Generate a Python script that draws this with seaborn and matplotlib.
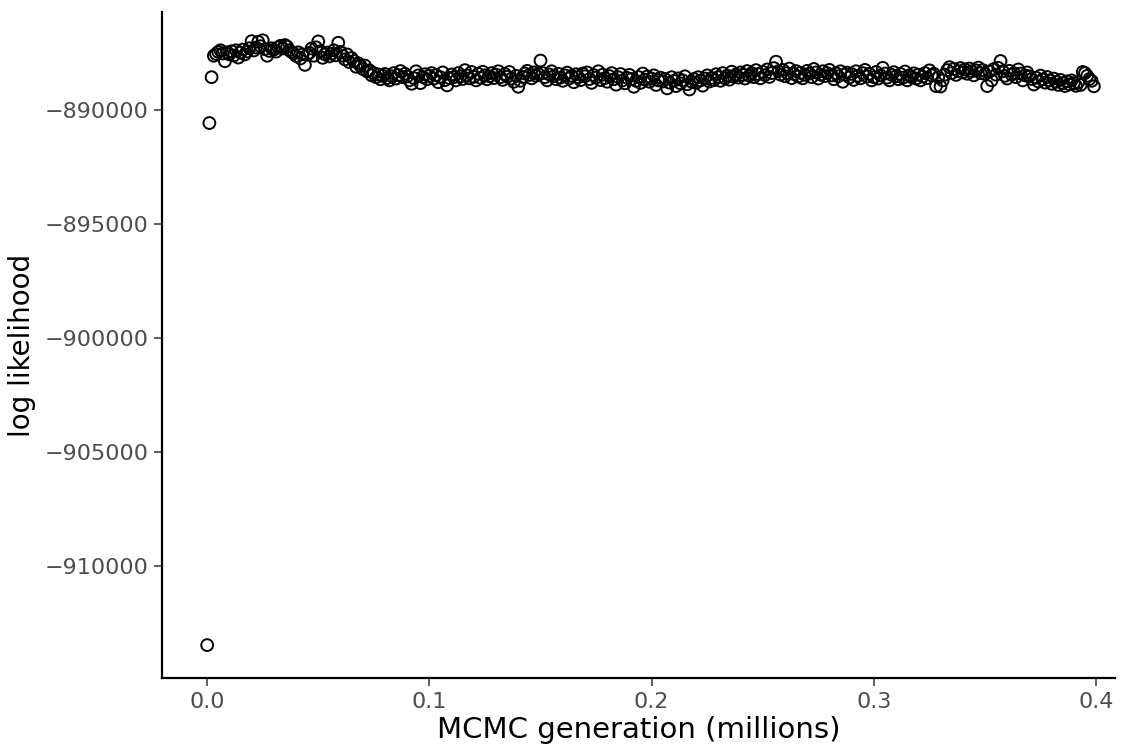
import numpy as np
import pandas as pd
import matplotlib
matplotlib.use("Agg")
import matplotlib.pyplot as plt
import seaborn as sns

generation = [i / 1000 for i in range(400)]  # millions

log_likelihood = [
    -913470, -890570, -888560, -887620, -887540, -887450, -887380, -887520, -887860, -887470,
    -887560, -887420, -887610, -887380, -887700, -887480, -887350, -887560, -887430, -887290,
    -886980, -887390, -887260, -887010, -887200, -886940, -887330, -887620, -887410, -887290,
    -887350, -887440, -887250, -887180, -887300, -887150, -887220, -887380, -887460, -887520,
    -887630, -887470, -887740, -887560, -888020, -887580, -887490, -887300, -887620, -887250,
    -886990, -887420, -887710, -887560, -887480, -887650, -887530, -887380, -887600, -887050,
    -887450, -887620, -887780, -887560, -887900, -887720, -887850, -888100, -887950, -888060,
    -888200, -888050, -888310, -888260, -888480, -888380, -888560, -888440, -888650, -888500,
    -888420, -888600, -888700, -888520, -888380, -888620, -888470, -888290, -888560, -888410,
    -888530, -888700, -888850, -888600, -888300, -888480, -888820, -888550, -888430, -888650,
    -888500, -888380, -888620, -888470, -888780, -888560, -888350, -888690, -888920, -888600,
    -888440, -888560, -888700, -888380, -888520, -888640, -888250, -888480, -888610, -888330,
    -888540, -888700, -888410, -888590, -888320, -888480, -888650, -888520, -888380, -888600,
    -888450, -888300, -888560, -888680, -888420, -888540, -888330, -888620, -888760, -888500,
    -888980, -888720, -888550, -888400, -888280, -888460, -888610, -888350, -888500, -888420,
    -887830, -888380, -888560, -888700, -888440, -888300, -888520, -888650, -888410, -888580,
    -888720, -888480, -888360, -888610, -888500, -888780, -888430, -888560, -888690, -888400,
    -888520, -888350, -888640, -888810, -888470, -888580, -888300, -888690, -888450, -888600,
    -888760, -888510, -888380, -888650, -888890, -888560, -888420, -888700, -888830, -888590,
    -888460, -888640, -888980, -888720, -888550, -888810, -888400, -888670, -888530, -888760,
    -888620, -888480, -888900, -888700, -888580, -888750, -888640, -889050, -888800, -888560,
    -888720, -888950, -888610, -888830, -888700, -888520, -888870, -889100, -888760, -888640,
    -888810, -888560, -888700, -888930, -888620, -888480, -888750, -888590, -888690, -888430,
    -888560, -888720, -888380, -888610, -888490, -888670, -888320, -888540, -888440, -888580,
    -888350, -888460, -888620, -888290, -888500, -888380, -888560, -888250, -888420, -888610,
    -888330, -888470, -888220, -888550, -888380, -888160, -887880, -888300, -888450, -888240,
    -888520, -888380, -888180, -888600, -888420, -888290, -888530, -888370, -888610, -888460,
    -888280, -888400, -888560, -888200, -888350, -888620, -888450, -888300, -888510, -888380,
    -888240, -888480, -888650, -888390, -888520, -888300, -888760, -888450, -888360, -888570,
    -888420, -888680, -888300, -888500, -888610, -888380, -888240, -888530, -888410, -888700,
    -888560, -888330, -888620, -888480, -888150, -888400, -888580, -888700, -888460, -888340,
    -888520, -888650, -888420, -888580, -888310, -888700, -888480, -888560, -888390, -888620,
    -888450, -888700, -888530, -888380, -888600, -888260, -888480, -888410, -888950, -888560,
    -888970, -888700, -888450, -888250, -888120, -888380, -888200, -888460, -888300, -888160,
    -888350, -888220, -888410, -888180, -888300, -888480, -888260, -888140, -888380, -888250,
    -888420, -888950, -888310, -888700, -888200, -888450, -888150, -887850, -888300, -888500,
    -888620, -888280, -888450, -888380, -888560, -888220, -888400, -888700, -888480, -888350,
    -888520, -888640, -888880, -888580, -888750, -888490, -888660, -888800, -888550, -888700,
    -888850, -888620, -888760, -888900, -888680, -888820, -888950, -888740, -888880, -888700,
    -888820, -888940, -888780, -888900, -888330, -888380, -888500, -888640, -888720, -888960,
]

x_ticks = [0.0, 0.1, 0.2, 0.3, 0.4]
x_tick_labels = ["0.0", "0.1", "0.2", "0.3", "0.4"]
y_ticks = [-910000, -905000, -900000, -895000, -890000]
y_tick_labels = ["\u2212910000", "\u2212905000", "\u2212900000", "\u2212895000", "\u2212890000"]

df = pd.DataFrame({"gen": generation, "ll": log_likelihood})

sns.set_theme(style="ticks")
plt.rcParams['font.family'] = ['DejaVu Sans']

fig = plt.figure(figsize=(11.30, 7.52), dpi=100)
ax = fig.add_axes([0.1434, 0.0984, 0.8433, 0.8856])

sns.scatterplot(data=df, x="gen", y="ll", ax=ax, s=72, facecolor="none",
                edgecolor="black", linewidth=1.4, marker="o")

ax.set_xlim(-0.0203, 0.4085)
ax.set_ylim(-914913, -885702)
ax.set_xticks(x_ticks)
ax.set_xticklabels(x_tick_labels)
ax.set_yticks(y_ticks)
ax.set_yticklabels(y_tick_labels)

for side in ["top", "right"]:
    ax.spines[side].set_visible(False)
for side in ["left", "bottom"]:
    ax.spines[side].set_linewidth(1.6)
    ax.spines[side].set_color("black")

ax.tick_params(axis="both", which="major", length=6, width=1.1, color="#333333",
               labelsize=16, labelcolor="#4D4D4D", pad=4)
ax.set_xlabel("MCMC generation (millions)", fontsize=21, color="black", labelpad=3)
ax.set_ylabel("log likelihood", fontsize=20, color="black", labelpad=6)
ax.grid(False)

fig.savefig("out.png", dpi=100)
